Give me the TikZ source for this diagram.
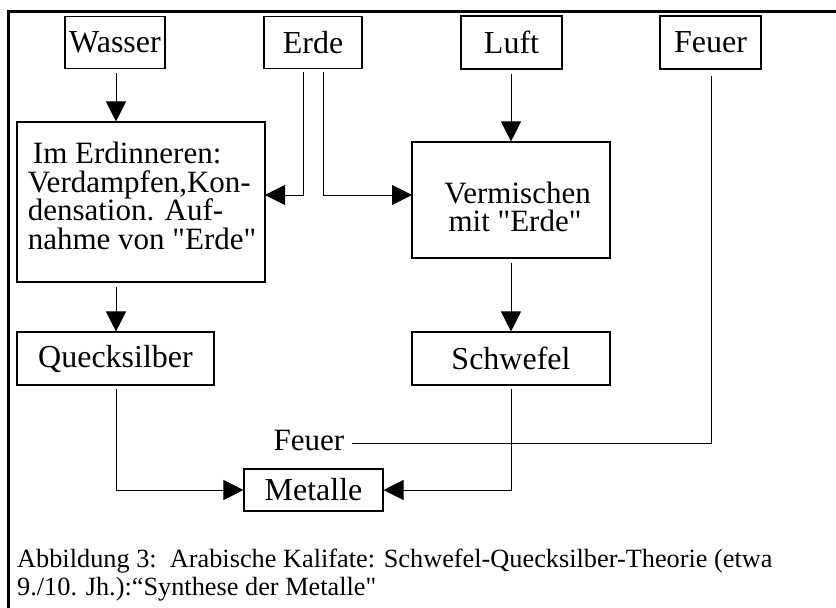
\documentclass[tikz,border=0pt]{standalone}
\usepackage{fontspec}
\setmainfont{Liberation Serif}[Ligatures=TeXOff]
\usetikzlibrary{arrows.meta}
\begin{document}
\begin{tikzpicture}[x=1pt,y=-1pt,
  box/.style={draw,line width=1.1pt,inner sep=0pt,font=\fontsize{32}{28.5}\selectfont},
  txt/.style={inner sep=0pt,font=\fontsize{31}{28.5}\selectfont},
  conn/.style={line width=0.9pt},
  arr/.style={conn,-{Triangle[width=20pt,length=20pt]}},
  frame/.style={line width=2.2pt}]
\useasboundingbox (0,0) rectangle (836,608);
\draw[frame] (8.5,608) -- (8.5,11.5) -- (836,11.5);
% top row
\node[box,minimum width=100pt,minimum height=52pt] (wasser) at (115,42.5) {Wasser};
\node[box,minimum width=98pt,minimum height=52pt] (erde) at (313,42.5) {Erde};
\node[box,minimum width=101pt,minimum height=53pt] (luft) at (511.5,42.5) {Luft};
\node[box,minimum width=101pt,minimum height=53pt] (feuer) at (710.5,42.5) {Feuer};
% middle
\node[box,minimum width=248pt,minimum height=160pt] (erd) at (141,202) {};
\node[txt,align=left] (erdtext) at (142,196)
  {\,Im Erdinneren:\\Verdampfen,Kon-\\densation. Auf-\\nahme von "Erde"};
\node[box,minimum width=198pt,minimum height=116pt] (verm) at (511,200) {};
\node[txt,align=center] (vermtext) at (515,207) {\,Vermischen\\mit "Erde"};
% lower
\node[box,minimum width=197pt,minimum height=53pt] (queck) at (115.5,358.5) {Quecksilber};
\node[box,minimum width=198pt,minimum height=53pt] (schw) at (511,358.5) {Schwefel};
\node[box,minimum width=139pt,minimum height=42pt] (metalle) at (313.5,490) {Metalle};
\node[txt] (flabel) at (309,440) {Feuer};
% coordinates
\coordinate (e1) at (303,72);
\coordinate (e2) at (323,72);
\coordinate (erdin) at (265,195);
\coordinate (vermin) at (412,195);
% connectors
\draw[arr,shorten <=4pt] (wasser.south -| 116,0) -- (erd.north -| 116,0);
\draw[arr,shorten <=4pt] (erd.south -| 116,0) -- (queck.north -| 116,0);
\draw[arr,shorten <=4pt] (luft.south -| 511,0) -- (verm.north -| 511,0);
\draw[arr,shorten <=4pt] (verm.south -| 511,0) -- (schw.north -| 511,0);
\draw[arr] (e1) |- (erdin);
\draw[arr] (e2) |- (vermin);
\draw[conn,shorten <=6pt] (feuer.south -| 711,0) |- ([xshift=8pt,yshift=-3pt]flabel.east);
\draw[arr,shorten <=3pt] (queck.south -| 116,0) |- (metalle.west);
\draw[arr,shorten <=3pt] (schw.south -| 511,0) |- (metalle.east);
% caption
\node[anchor=base west,inner sep=0pt,font=\fontsize{26.3}{28}\selectfont] (cap1) at (17,567)
  {Abbildung 3:\ \ Arabische Kalifate: Schwefel-Quecksilber-Theorie (etwa};
\node[anchor=base west,inner sep=0pt,font=\fontsize{26.3}{28}\selectfont] (cap2) at (17,595)
  {9./10. Jh.):“Synthese der Metalle"};
\end{tikzpicture}
\end{document}
